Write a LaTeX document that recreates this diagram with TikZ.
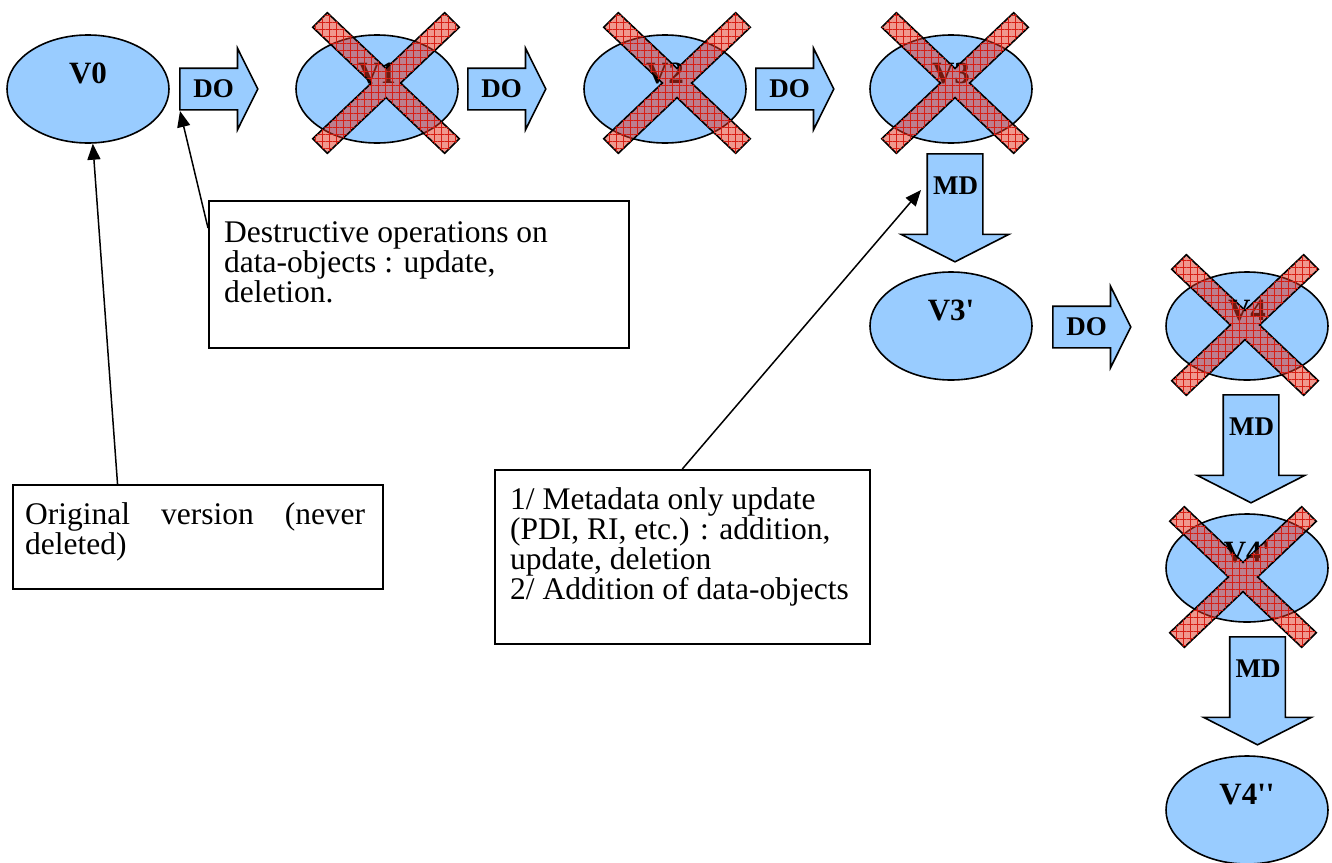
\documentclass[tikz,border=0pt]{standalone}
\usepackage{fontspec}
\setmainfont{Liberation Serif}
\usetikzlibrary{shapes.geometric,shapes.arrows,arrows.meta,patterns.meta,calc}

\definecolor{verblue}{RGB}{153,204,255}
\definecolor{crossred}{RGB}{225,50,30}
\definecolor{gridred}{RGB}{215,30,20}

\tikzset{
  vers/.style={ellipse, draw, fill=verblue, line width=1.6pt, minimum width=162pt, minimum height=108pt,
    inner sep=0pt, font=\bfseries\fontsize{31}{31}\selectfont, text height=21pt, text depth=33pt},
  doarrow/.style={single arrow, draw, fill=verblue, line width=1.6pt, minimum height=78pt,
    single arrow head extend=20pt, single arrow tip angle=127, text height=18pt, text depth=2pt,
    inner ysep=10pt, inner xsep=4pt, font=\bfseries\fontsize{27}{27}\selectfont},
  mdarrow/.style={doarrow, shape border rotate=270, minimum height=108pt, text width=44pt, align=center,
    inner xsep=5pt, text depth=30pt, single arrow head extend=26pt, single arrow tip angle=126},
  notebox/.style={draw, line width=1.6pt, inner sep=0pt, anchor=north west},
  notetext/.style={inner sep=0pt, anchor=north west, align=left, font=\fontsize{31.5}{30}\selectfont},
  pointer/.style={line width=1.5pt, -{Triangle[length=16pt,width=13pt]}},
  crossfill/.style={draw=black, line width=1.6pt, fill=crossred, fill opacity=0.5,
    postaction={pattern={Hatch[angle=0,distance=7pt,line width=0.5pt]}, pattern color=gridred, fill opacity=0.4}},
  crossmark/.pic={
    \draw[crossfill] (14.6,0) -- (73.3,55.7) -- (58.7,70.3) -- (0,14.6) -- (-58.7,70.3) -- (-73.3,55.7)
      -- (-14.6,0) -- (-73.3,-55.7) -- (-58.7,-70.3) -- (0,-14.6) -- (58.7,-70.3) -- (73.3,-55.7) -- cycle;
  }
}

\begin{document}
\begin{tikzpicture}[x=1pt, y=-1pt]
    \useasboundingbox (0,0) rectangle (1332,862);

    % Versions
    \node[vers] (v0) at (88,89) {V0};
    \node[vers] (v1) at (377,89) {V1};
    \node[vers] (v2) at (665,89) {V2};
    \node[vers] (v3) at (951,89) {V3};
    \node[vers] (v3p) at (951,326) {V3\textquotesingle};
    \node[vers] (v4) at (1247,326) {V4};
    \node[vers] (v4p) at (1247,568) {V4\textquotesingle};
    \node[vers] (v4pp) at (1247,810) {V4\textquotesingle\textquotesingle};

    % Deleted versions
    \pic at ($(v1)+(9,-6)$) {crossmark};
    \pic at ($(v2)+(12,-6)$) {crossmark};
    \pic at ($(v3)+(4,-6)$) {crossmark};
    \pic at ($(v4)+(-2,-1)$) {crossmark};
    \pic at ($(v4p)+(-4,9)$) {crossmark};

    % Operations
    \node[doarrow, anchor=tail] (do1) at (179,89) {DO};
    \node[doarrow, anchor=tail] (do2) at (467,89) {DO};
    \node[doarrow, anchor=tail] (do3) at (755,89) {DO};
    \node[doarrow, anchor=tail] (do4) at (1052,327) {DO};
    \node[mdarrow, anchor=tail] (md1) at (955,153) {MD};
    \node[mdarrow, anchor=tail] (md2) at (1251,394) {MD};
    \node[mdarrow, anchor=tail] (md3) at (1257.5,636) {MD};

    % Notes
    \node[notebox, minimum width=420pt, minimum height=147pt] (box1) at (208,200) {};
    \node[notetext] (note1) at ($(box1.north west)+(16,21)$)
        {Destructive operations on\\data-objects : update,\\deletion.};
    \node[notebox, minimum width=370pt, minimum height=104pt] (box2) at (12,484) {};
    \node[notetext, text width=340pt, align=justify] (note2) at ($(box2.north west)+(13,18)$)
        {Original version (never \mbox{deleted)}};
    \node[notebox, minimum width=375pt, minimum height=174pt] (box3) at (494,469) {};
    \node[notetext] (note3) at ($(box3.north west)+(16,18)$)
        {1/ Metadata only update\\(PDI, RI, etc.) : addition,\\update, deletion\\2/ Addition of data-objects};

    % Pointers
    \coordinate (do1foot) at ($(do1.tail)+(1,22)$);
    \coordinate (md1side) at ($(md1.tail)+(-34,37)$);
    \draw[pointer] ($(box2.north west)!0.284!(box2.north east)$) -- (v0.-85);
    \draw[pointer] ($(box1.north west)+(0,28)$) -- (do1foot);
    \draw[pointer] (box3.north) -- (md1side);
\end{tikzpicture}
\end{document}
